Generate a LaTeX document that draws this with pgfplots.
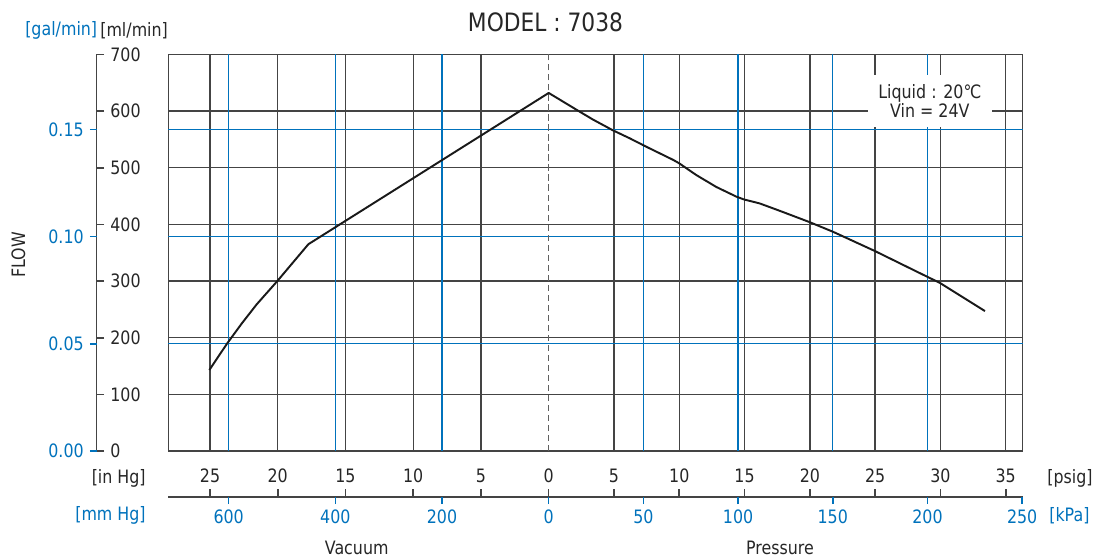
\documentclass[border=0pt]{standalone}
\usepackage{fontspec}
\setmainfont{DejaVu Sans}[FakeStretch=0.86]
\usepackage{pgfplots}
\usepackage{pgfplotstable}
\pgfplotsset{compat=1.18}
\definecolor{bl}{RGB}{0,114,188}
\definecolor{gd}{RGB}{68,68,68}
\newcommand{\fs}{\fontsize{10.5}{12.2}\selectfont}
\pgfplotstableread{
p flow
-25.05 143
-23.76 189
-22.66 225
-21.55 259
-20.03 300
-17.74 365
0 632
2.37 599
3.39 585
4.92 566
6.20 552
7.48 537
9.52 514
9.98 508
11.31 487
12.84 466
14.37 449
14.95 444
16.16 437
17.69 424
19.98 404
21.77 387
24.98 353
29.04 307
29.94 297
33.41 247
}\flowdata
\begin{document}
\begin{tikzpicture}[x=0.02cm,y=0.02cm]
\path[use as bounding box] (0,0) rectangle (1097,559);
% main plot
\begin{axis}[
  at={(3.37cm,2.16cm)}, anchor=south west, scale only axis,
  width=17.084cm, height=7.934cm,
  xmin=-380.3, xmax=473.9, ymin=0, ymax=700,
  xtick={-338.75,-271,-203.25,-135.5,-67.75,65.3,130.6,195.9,261.2,326.5,391.8,457.1},
  ytick={100,200,...,600},
  xticklabels={}, yticklabels={},
  major tick length=0pt,
  grid=major,
  major grid style={gd, line width=0.75pt},
  extra x ticks={-320.08,-213.39,-106.69,94.71,189.41,284.12,378.83},
  extra y ticks={189.27,378.54,567.81},
  extra x tick labels={}, extra y tick labels={},
  extra tick style={major grid style={bl, line width=0.7pt}, major tick length=0pt},
  axis line style={gd, line width=1pt},
]
\addplot[gd!85, line width=0.7pt, dash pattern=on 3.5pt off 2.2pt] coordinates {(0,0) (0,700)};
\node[fill=white, minimum width=2.48cm, minimum height=1.034cm, inner sep=0pt, align=center, font=\fs, text=black!85] at (axis cs:381.2,617.9) {Liquid : 20℃\\[-1pt]Vin = 24V};
\addplot[black!90, line width=1.1pt, line join=round] table[x expr={\thisrow{p}<0 ? 13.55*\thisrow{p} : 13.06*\thisrow{p}}, y=flow] {\flowdata};
\end{axis}
% left scale, ml/min
\begin{axis}[
  at={(1.934cm,2.16cm)}, anchor=south east, scale only axis,
  width=0.2cm, height=7.934cm,
  xmin=0, xmax=1, ymin=0, ymax=700,
  axis x line=none, axis y line*=right,
  ytick={0,100,...,700}, yticklabels={0,100,200,300,400,500,600,700},
  tick align=outside, major tick length=0.15cm,
  axis line style={gd, line width=0.9pt, -},
  tick style={gd, line width=0.9pt},
  yticklabel style={font=\fs, text=black!85},
]
\end{axis}
% left scale, gal/min
\begin{axis}[
  at={(1.934cm,2.16cm)}, anchor=south west, scale only axis,
  width=0.2cm, height=7.934cm,
  xmin=0, xmax=1, ymin=0, ymax=0.18492,
  axis x line=none, axis y line*=left,
  ytick={0,0.05,0.1,0.15}, yticklabels={0.00,0.05,0.10,0.15},
  tick align=outside, major tick length=0.135cm,
  axis line style={draw=none},
  tick style={bl, line width=0.9pt},
  yticklabel style={font=\fs, text=bl},
]
\end{axis}
% bottom scale, in Hg / psig
\begin{axis}[
  at={(3.37cm,1.246cm)}, anchor=north west, scale only axis,
  width=17.084cm, height=0.4cm,
  xmin=-380.3, xmax=473.9, ymin=0, ymax=1,
  axis y line=none, axis x line*=top,
  xtick={-338.75,-271,-203.25,-135.5,-67.75,0,65.3,130.6,195.9,261.2,326.5,391.8,457.1},
  xticklabels={25,20,15,10,5,0,5,10,15,20,25,30,35},
  tick align=outside, major tick length=0.146cm,
  axis line style={gd, line width=0.9pt, -},
  tick style={gd, line width=0.9pt},
  xticklabel style={font=\fs, text=black!85},
]
\end{axis}
% bottom scale, mm Hg / kPa
\begin{axis}[
  at={(3.37cm,1.246cm)}, anchor=south west, scale only axis,
  width=17.084cm, height=0.4cm,
  xmin=-380.3, xmax=473.9, ymin=0, ymax=1,
  axis y line=none, axis x line*=bottom,
  xtick={-320.08,-213.39,-106.69,0,94.71,189.41,284.12,378.83,473.53},
  xticklabels={600,400,200,0,50,100,150,200,250},
  tick align=outside, major tick length=0.146cm,
  axis line style={draw=none},
  tick style={bl, line width=0.9pt},
  xticklabel style={font=\fs, text=bl},
]
\end{axis}
\node[font=\fontsize{14.4}{16}\selectfont, text=black!85] at (545.5,537) {MODEL : 7038};
\node[font=\fs, text=bl, anchor=east, inner sep=0pt] at (97.5,528.5) {[gal/min]};
\node[font=\fs, text=black!85, anchor=west, inner sep=0pt] at (100,528.5) {[ml/min]};
\node[font=\fs, text=black!85, rotate=90] at (18.3,304) {FLOW};
\node[font=\fs, text=black!85, anchor=east, inner sep=0pt] at (146,80.7) {[in Hg]};
\node[font=\fs, text=bl, anchor=east, inner sep=0pt] at (146,43.2) {[mm Hg]};
\node[font=\fs, text=black!85, anchor=west, inner sep=0pt] at (1047,80.7) {[psig]};
\node[font=\fs, text=bl, anchor=west, inner sep=0pt] at (1049,43.2) {[kPa]};
\node[font=\fs, text=black!85] at (356.7,11) {Vacuum};
\node[font=\fs, text=black!85] at (780,11) {Pressure};
\end{tikzpicture}
\end{document}
